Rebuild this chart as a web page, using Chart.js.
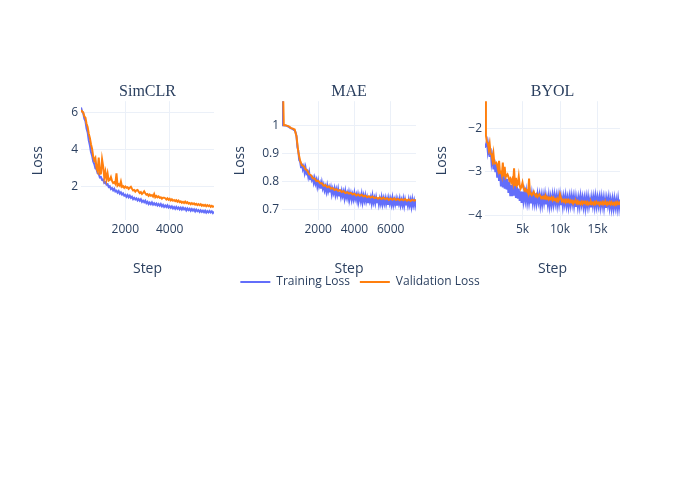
<!DOCTYPE html>
<html>
<head>
<meta charset="utf-8">
<script src="https://cdn.jsdelivr.net/npm/chart.js@4.4.1/dist/chart.umd.min.js"></script>
<style>
  html, body { margin: 0; padding: 0; background: #fff; }
  #wrap { position: relative; width: 700px; height: 500px; }
  #wrap canvas { position: absolute; }
</style>
</head>
<body>
<div id="wrap">
  <canvas id="simclr" width="230" height="210" style="left:0px;top:70px"></canvas>
  <canvas id="byol" width="200" height="210" style="left:430px;top:70px"></canvas>
  <canvas id="mae" width="260" height="228" style="left:230px;top:70px"></canvas>
</div>
<script>
// series names
const seriesNames = ['Training Loss', 'Validation Loss'];

// SimCLR
const simclrSteps = [0,50,100,150,200,250,300,350,400,450,500,550,600,650,700,750,800,850,900,950,
  1000,1050,1100,1150,1200,1250,1300,1350,1400,1450,1500,1550,1600,1650,1700,1750,1800,1850,1900,1950,
  2000,2050,2100,2150,2200,2250,2300,2350,2400,2450,2500,2550,2600,2650,2700,2750,2800,2850,2900,2950,
  3000,3050,3100,3150,3200,3250,3300,3350,3400,3450,3500,3550,3600,3650,3700,3750,3800,3850,3900,3950,
  4000,4050,4100,4150,4200,4250,4300,4350,4400,4450,4500,4550,4600,4650,4700,4750,4800,4850,4900,4950,
  5000,5050,5100,5150,5200,5250,5300,5350,5400,5450,5500,5550,5600,5650,5700,5750,5800,5850,5900,5950,6000];
const simclrTrain = [6.28,6.08,5.98,5.68,5.54,5.14,4.93,4.50,4.22,3.86,3.66,3.34,3.20,2.96,2.92,2.70,2.67,2.47,2.49,2.34,
  2.35,2.17,2.21,2.08,2.11,1.95,1.99,1.84,1.89,1.77,1.85,1.71,1.75,1.64,1.73,1.59,1.66,1.54,1.60,1.48,
  1.53,1.42,1.51,1.39,1.48,1.36,1.42,1.29,1.36,1.27,1.33,1.22,1.30,1.20,1.28,1.14,1.21,1.12,1.20,1.07,
  1.14,1.02,1.10,1.01,1.11,0.99,1.07,0.98,1.05,0.94,1.02,0.93,1.02,0.90,0.98,0.86,0.94,0.86,0.95,0.83,
  0.90,0.81,0.89,0.78,0.86,0.76,0.86,0.76,0.83,0.73,0.82,0.72,0.82,0.73,0.79,0.67,0.78,0.69,0.76,0.65,
  0.75,0.66,0.73,0.62,0.72,0.63,0.69,0.59,0.68,0.59,0.66,0.57,0.66,0.55,0.63,0.56,0.64,0.56,0.62,0.53,0.60];
const simclrVal = [6.15,6.07,6.02,5.81,5.73,5.40,5.22,4.86,4.63,4.28,4.04,3.62,3.40,3.53,2.99,2.82,3.55,2.67,2.69,3.46,
  3.07,2.46,2.78,2.36,2.69,2.30,2.34,2.49,2.28,2.17,2.21,2.12,2.69,2.03,2.10,2.02,2.25,1.96,2.00,1.91,
  1.98,1.91,1.94,1.85,1.91,1.96,1.85,1.76,1.79,1.70,1.77,1.79,1.70,1.62,1.67,1.57,1.63,1.71,1.61,1.53,
  1.56,1.47,1.54,1.47,1.51,1.43,1.57,1.39,1.46,1.39,1.44,1.36,1.39,1.31,1.37,1.37,1.34,1.27,1.33,1.25,
  1.31,1.22,1.28,1.20,1.24,1.18,1.23,1.15,1.21,1.13,1.17,1.09,1.14,1.08,1.15,1.07,1.12,1.04,1.08,1.01,
  1.07,1.01,1.06,0.99,1.03,0.96,1.02,0.96,1.01,0.93,0.98,0.92,0.97,0.90,0.96,0.90,0.95,0.87,0.92,0.87,0.91];
const simclrXTicks = [2000, 4000];
const simclrXLabels = ['2000', '4000'];
const simclrYTicks = [2, 4, 6];
const simclrYLabels = ['2', '4', '6'];

// MAE
const maeTrainSteps = [0,50,100,150,200,250,300,350,400,450,500,550,600,650,700,750,800,850,900,950,
  1000,1050,1100,1150,1200,1250,1300,1350,1400,1450,1500,1550,1600,1650,1700,1750,1800,1850,1900,1950,
  2000,2050,2100,2150,2200,2250,2300,2350,2400,2450,2500,2550,2600,2650,2700,2750,2800,2850,2900,2950,
  3000,3050,3100,3150,3200,3250,3300,3350,3400,3450,3500,3550,3600,3650,3700,3750,3800,3850,3900,3950,
  4000,4050,4100,4150,4200,4250,4300,4350,4400,4450,4500,4550,4600,4650,4700,4750,4800,4850,4900,4950,
  5000,5050,5100,5150,5200,5250,5300,5350,5400,5450,5500,5550,5600,5650,5700,5750,5800,5850,5900,5950,
  6000,6050,6100,6150,6200,6250,6300,6350,6400,6450,6500,6550,6600,6650,6700,6750,6800,6850,6900,6950,
  7000,7050,7100,7150,7200,7250,7300,7350,7400];
const maeTrain = [1.30,1.0,1.0,0.999,0.999,0.998,0.997,0.995,0.993,0.991,0.989,0.988,0.986,0.984,0.982,0.975,0.962,0.922,0.909,0.876,
  0.871,0.850,0.863,0.843,0.853,0.831,0.849,0.829,0.835,0.816,0.832,0.807,0.822,0.805,0.813,0.795,0.811,0.792,0.804,0.782,
  0.801,0.782,0.793,0.774,0.795,0.775,0.787,0.768,0.781,0.763,0.784,0.764,0.778,0.761,0.777,0.754,0.772,0.758,0.774,0.752,
  0.770,0.753,0.772,0.749,0.763,0.745,0.765,0.748,0.762,0.740,0.764,0.743,0.757,0.739,0.760,0.741,0.756,0.734,0.752,0.736,
  0.758,0.738,0.751,0.731,0.752,0.733,0.748,0.730,0.752,0.726,0.748,0.731,0.749,0.728,0.743,0.725,0.746,0.729,0.743,0.722,
  0.747,0.725,0.740,0.722,0.743,0.725,0.741,0.718,0.737,0.721,0.742,0.719,0.738,0.721,0.739,0.719,0.736,0.716,0.739,0.721,
  0.737,0.718,0.740,0.716,0.733,0.718,0.736,0.713,0.734,0.720,0.738,0.715,0.732,0.716,0.736,0.713,0.734,0.717,0.730,0.713,
  0.734,0.715,0.732,0.710,0.735,0.715,0.731,0.713,0.734];
const maeValSteps = [0,100,200,300,400,500,600,700,800,900,1000,1100,1200,1300,1400,1500,1600,1700,1800,1900,
  2000,2100,2200,2300,2400,2500,2600,2700,2800,2900,3000,3100,3200,3300,3400,3500,3600,3700,3800,3900,
  4000,4100,4200,4300,4400,4500,4600,4700,4800,4900,5000,5100,5200,5300,5400,5500,5600,5700,5800,5900,
  6000,6100,6200,6300,6400,6500,6600,6700,6800,6900,7000,7100,7200,7300,7400];
const maeVal = [1.30,1.0,1.0,0.998,0.995,0.99,0.988,0.985,0.96,0.905,0.874,0.857,0.854,0.843,0.838,0.825,0.822,0.811,0.810,0.801,
  0.802,0.793,0.793,0.784,0.786,0.779,0.782,0.774,0.776,0.769,0.772,0.766,0.769,0.762,0.765,0.758,0.761,0.756,0.759,0.753,
  0.756,0.749,0.753,0.748,0.752,0.746,0.749,0.743,0.747,0.742,0.746,0.740,0.743,0.738,0.742,0.737,0.742,0.736,0.740,0.734,
  0.739,0.734,0.739,0.733,0.737,0.732,0.736,0.732,0.737,0.731,0.735,0.730,0.734,0.731,0.734];
const maeXTicks = [2000, 4000, 6000];
const maeXLabels = ['2000', '4000', '6000'];
const maeYTicks = [0.7, 0.8, 0.9, 1];
const maeYLabels = ['0.7', '0.8', '0.9', '1'];

// BYOL
const byolSteps = [0,125,250,375,500,625,750,875,1000,1125,1250,1375,1500,1625,1750,1875,
  2000,2125,2250,2375,2500,2625,2750,2875,3000,3125,3250,3375,3500,3625,3750,3875,
  4000,4125,4250,4375,4500,4625,4750,4875,5000,5125,5250,5375,5500,5625,5750,5875,
  6000,6125,6250,6375,6500,6625,6750,6875,7000,7125,7250,7375,7500,7625,7750,7875,
  8000,8125,8250,8375,8500,8625,8750,8875,9000,9125,9250,9375,9500,9625,9750,9875,
  10000,10125,10250,10375,10500,10625,10750,10875,11000,11125,11250,11375,11500,11625,11750,11875,
  12000,12125,12250,12375,12500,12625,12750,12875,13000,13125,13250,13375,13500,13625,13750,13875,
  14000,14125,14250,14375,14500,14625,14750,14875,15000,15125,15250,15375,15500,15625,15750,15875,
  16000,16125,16250,16375,16500,16625,16750,16875,17000,17125,17250,17375,17500,17625,17750,17875,18000];
const byolTrain = [-2.45,-2.45,-2.30,-2.54,-2.39,-2.66,-2.46,-2.80,-2.67,-2.95,-2.72,-3.01,-2.83,-3.14,-2.88,-3.21,
  -3.01,-3.34,-3.11,-3.36,-3.08,-3.39,-3.15,-3.41,-3.17,-3.49,-3.24,-3.56,-3.31,-3.56,-3.27,-3.55,
  -3.32,-3.60,-3.34,-3.62,-3.39,-3.67,-3.45,-3.72,-3.46,-3.67,-3.48,-3.66,-3.47,-3.70,-3.52,-3.71,
  -3.54,-3.73,-3.52,-3.72,-3.55,-3.72,-3.50,-3.71,-3.52,-3.69,-3.54,-3.76,-3.56,-3.75,-3.55,-3.71,
  -3.53,-3.75,-3.59,-3.76,-3.56,-3.78,-3.59,-3.76,-3.55,-3.74,-3.54,-3.72,-3.56,-3.76,-3.56,-3.74,
  -3.55,-3.77,-3.60,-3.79,-3.58,-3.74,-3.56,-3.77,-3.61,-3.79,-3.58,-3.76,-3.56,-3.74,-3.58,-3.78,
  -3.59,-3.81,-3.62,-3.80,-3.61,-3.79,-3.57,-3.75,-3.60,-3.80,-3.62,-3.82,-3.60,-3.78,-3.59,-3.79,
  -3.64,-3.82,-3.60,-3.77,-3.59,-3.79,-3.58,-3.78,-3.60,-3.77,-3.60,-3.80,-3.59,-3.78,-3.61,-3.82,
  -3.63,-3.83,-3.62,-3.77,-3.60,-3.82,-3.65,-3.84,-3.64,-3.83,-3.63,-3.82,-3.66,-3.84,-3.63,-3.83,-3.64];
const byolVal = [-1.0,-2.17,-2.32,-2.34,-2.48,-2.36,-2.59,-2.60,-2.73,-2.58,-2.81,-2.80,-2.79,-2.86,-2.96,-2.75,
  -3.03,-2.97,-3.08,-2.79,-3.11,-2.89,-3.13,-3.09,-3.06,-3.12,-3.20,-3.16,-3.25,-3.18,-3.27,-2.92,
  -3.31,-3.14,-3.32,-3.28,-3.11,-3.32,-3.39,-3.34,-3.25,-3.37,-3.43,-3.40,-3.45,-3.43,-3.49,-3.16,
  -3.52,-3.50,-3.54,-3.50,-3.46,-3.53,-3.56,-3.52,-3.58,-3.55,-3.52,-3.56,-3.61,-3.58,-3.61,-3.57,
  -3.62,-3.57,-3.62,-3.59,-3.64,-3.60,-3.63,-3.59,-3.65,-3.60,-3.65,-3.63,-3.67,-3.62,-3.68,-3.64,
  -3.52,-3.52,-3.68,-3.65,-3.69,-3.65,-3.70,-3.65,-3.69,-3.65,-3.70,-3.66,-3.70,-3.67,-3.73,-3.68,
  -3.71,-3.68,-3.73,-3.68,-3.73,-3.70,-3.74,-3.69,-3.74,-3.69,-3.72,-3.69,-3.74,-3.70,-3.75,-3.71,
  -3.74,-3.69,-3.74,-3.71,-3.75,-3.70,-3.74,-3.69,-3.73,-3.71,-3.76,-3.71,-3.74,-3.70,-3.75,-3.70,
  -3.74,-3.71,-3.76,-3.71,-3.74,-3.70,-3.75,-3.70,-3.75,-3.72,-3.76,-3.71,-3.75,-3.70,-3.74,-3.71,-3.76];
const byolXTicks = [5000, 10000, 15000];
const byolXLabels = ['5k', '10k', '15k'];
const byolYTicks = [-4, -3, -2];
const byolYLabels = ['\u22124', '\u22123', '\u22122'];

const TXT = '#2a3f5f';
const GRID = '#ebf0f8';
const BLUE = '#636efa';
const ORANGE = '#ff7f0e';

Chart.defaults.font.family = "'Open Sans', sans-serif";
Chart.defaults.color = TXT;

function pts(steps, vals) {
  return steps.map((s, i) => ({ x: s, y: vals[i] }));
}

function fixedTicks(values) {
  return scale => { scale.ticks = values.map(v => ({ value: v })); };
}

function makeChart(id, o) {
  const scales = {
    x: {
      type: 'linear', bounds: 'data', min: o.xMin, max: o.xMax,
      afterBuildTicks: fixedTicks(o.xTicks),
      afterFit: s => { s.height = o.xh; },
      grid: { color: GRID, drawTicks: false },
      border: { display: false },
      ticks: { padding: 2, font: { size: 12 }, maxRotation: 0, autoSkip: false,
        callback: (v, i) => o.xLabels[i] },
      title: { display: true, text: 'Step', font: { size: 14 }, padding: { top: 0, bottom: o.xtPad } }
    },
    y: {
      type: 'linear', bounds: 'data', min: o.yMin, max: o.yMax,
      afterBuildTicks: fixedTicks(o.yTicks),
      afterFit: s => { s.width = o.yw; },
      grid: { color: GRID, drawTicks: false },
      border: { display: false },
      ticks: { padding: 3, font: { size: 12 }, autoSkip: false,
        callback: (v, i) => o.yLabels[i] },
      title: { display: true, text: 'Loss', font: { size: 14 }, padding: { top: o.ytPad, bottom: 0 } }
    }
  };
  if (o.rightGap) {
    // empty right-hand axis, only reserves room so the legend can be centred on the figure
    scales.gap = {
      type: 'linear', position: 'right', display: true,
      grid: { display: false }, border: { display: false }, ticks: { display: false },
      afterFit: s => { s.width = o.rightGap; }
    };
  }

  return new Chart(document.getElementById(id), {
    type: 'line',
    data: {
      datasets: [
        {
          label: seriesNames[0],
          data: pts(o.trainSteps, o.train),
          borderColor: BLUE, backgroundColor: BLUE,
          borderWidth: 2, pointRadius: 0, tension: 0, order: 2
        },
        {
          label: seriesNames[1],
          data: pts(o.valSteps, o.val),
          borderColor: ORANGE, backgroundColor: ORANGE,
          borderWidth: 2, pointRadius: 0, tension: 0, order: 1
        }
      ]
    },
    options: {
      responsive: false,
      animation: false,
      events: [],
      layout: { padding: { left: 0, right: o.pr || 0, top: 0, bottom: 0 } },
      scales: scales,
      plugins: {
        title: {
          display: true, text: o.title, fullSize: false,
          font: { family: "'Liberation Serif', 'Times New Roman', serif", size: 16, weight: 'normal' },
          color: TXT, padding: { top: 12, bottom: 0 }
        },
        legend: o.legend ? {
          display: true, position: 'bottom', align: 'center',
          labels: {
            usePointStyle: true, pointStyle: 'line', pointStyleWidth: 30, boxHeight: 12,
            font: { size: 12 }, padding: 10, color: TXT,
            sort: (a, b) => a.datasetIndex - b.datasetIndex
          }
        } : { display: false },
        tooltip: { enabled: false }
      }
    }
  });
}

makeChart('simclr', {
  title: 'SimCLR', trainSteps: simclrSteps, valSteps: simclrSteps, train: simclrTrain, val: simclrVal,
  xMin: 0, xMax: 6000, yMin: 0.15, yMax: 6.63,
  xTicks: simclrXTicks, xLabels: simclrXLabels, yTicks: simclrYTicks, yLabels: simclrYLabels,
  yw: 81, pr: 16, xh: 60, xtPad: 2.6, ytPad: 29.6
});

makeChart('byol', {
  title: 'BYOL', trainSteps: byolSteps, valSteps: byolSteps, train: byolTrain, val: byolVal,
  xMin: 0, xMax: 18000, yMin: -4.11, yMax: -1.38,
  xTicks: byolXTicks, xLabels: byolXLabels, yTicks: byolYTicks, yLabels: byolYLabels,
  yw: 55, pr: 10, xh: 60, xtPad: 2.6, ytPad: 3.6
});

makeChart('mae', {
  title: 'MAE', trainSteps: maeTrainSteps, valSteps: maeValSteps, train: maeTrain, val: maeVal,
  xMin: 0, xMax: 7400, yMin: 0.662, yMax: 1.086,
  xTicks: maeXTicks, xLabels: maeXLabels, yTicks: maeYTicks, yLabels: maeYLabels,
  yw: 52, rightGap: 74, xh: 46, xtPad: -11.4, ytPad: 2.1, legend: true
});
</script>
</body>
</html>
